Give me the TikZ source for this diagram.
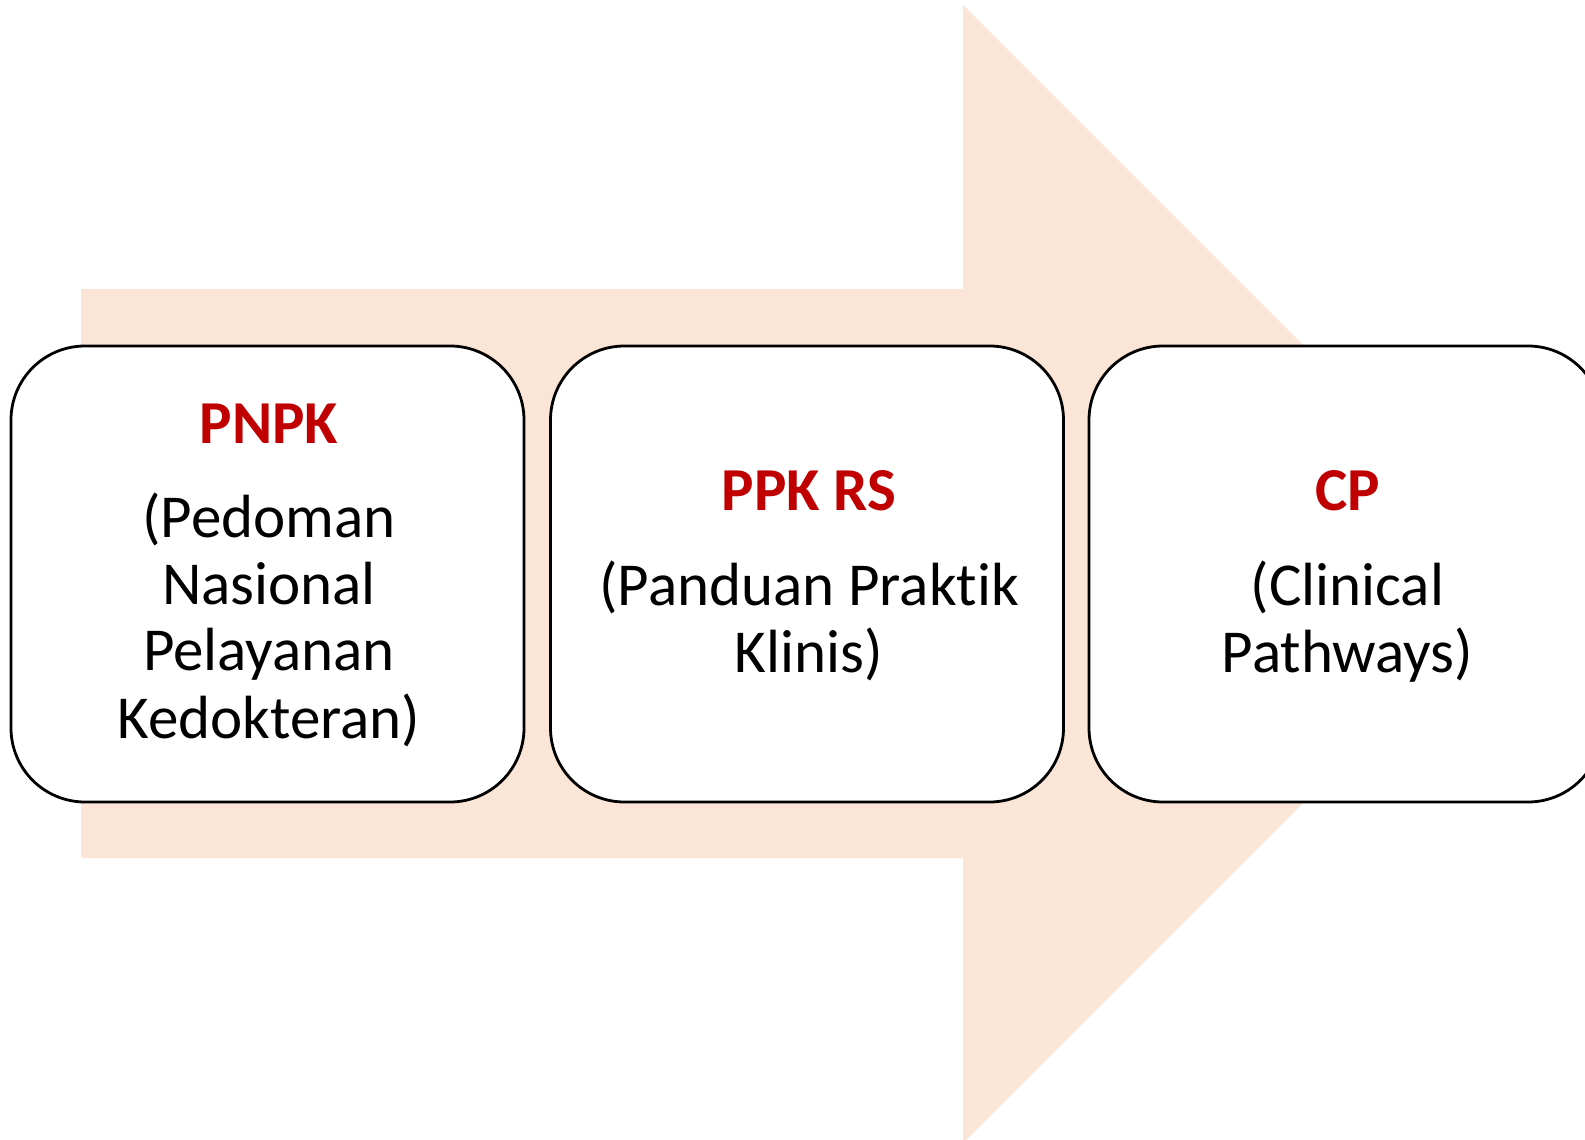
\documentclass[tikz,border=0pt]{standalone}
\usepackage{fontspec}
\setmainfont{Carlito}[Ligatures=NoCommon]
\definecolor{arrowfill}{HTML}{FBE5D6}
\definecolor{titlered}{HTML}{C00000}
\begin{document}
\begin{tikzpicture}[x=0.5pt,y=-0.5pt,
  stepbox/.style={draw=black, line width=1.4pt, fill=white, rounded corners=37pt,
    minimum width=256.5pt, minimum height=228pt, inner sep=0pt},
  title/.style={font=\fontsize{30.5}{33.5}\selectfont\bfseries, text=titlered, anchor=base, inner sep=0pt},
  body/.style={font=\fontsize{30.5}{33.5}\selectfont, text=black, anchor=base, inner sep=0pt}]
\useasboundingbox (0,0) rectangle (1585,1140);
\clip (0,0) rectangle (1585,1140);
% big arrow
\fill[arrowfill] (81,289) -- (963,289) -- (963,5) -- (1532,574) -- (963,1143) -- (963,858) -- (81,858) -- cycle;
% boxes
\node[stepbox] (b1) at (267.5,574) {};
\node[stepbox] (b2) at (807,574) {};
\node[stepbox] (b3) at (1345.5,574) {};
% box 1 text
\node[title] (t1) at (269,443) {PNPK};
\node[body] (l1a) at (269,537) {(Pedoman};
\node[body] (l1b) at (269,604) {Nasional};
\node[body] (l1c) at (269,670) {Pelayanan};
\node[body] (l1d) at (269,738) {Kedokteran)};
% box 2 text
\node[title] (t2) at (809,510) {PPK RS};
\node[body] (l2a) at (809,605) {(Panduan Praktik};
\node[body] (l2b) at (809,672) {Klinis)};
% box 3 text
\node[title] (t3) at (1347.5,510) {CP};
\node[body] (l3a) at (1347.5,605) {(Clinical};
\node[body] (l3b) at (1347.5,672) {Pathways)};
\end{tikzpicture}
\end{document}
